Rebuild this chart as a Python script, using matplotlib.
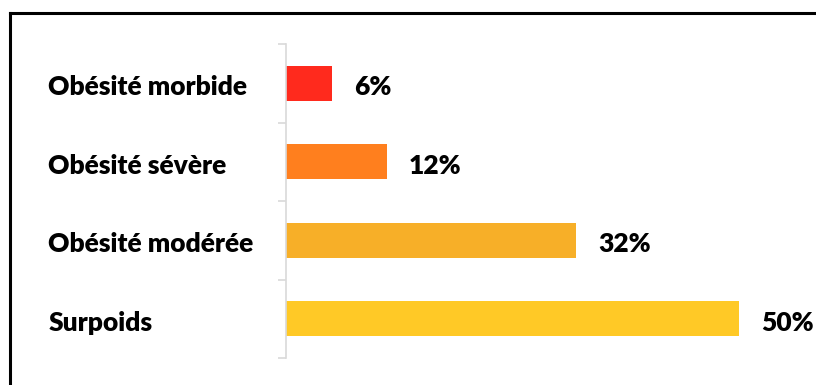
import matplotlib.pyplot as plt
from matplotlib.lines import Line2D

categories = ['Obésité morbide', 'Obésité sévère', 'Obésité modérée', 'Surpoids']
values = [5.1, 11.1, 32.0, 50.0]
value_labels = ['6%', '12%', '32%', '50%']
colors = ['#FF2A1D', '#FF7F1E', '#F7AF28', '#FFC926']

W, H = 816, 385
fig = plt.figure(figsize=(W / 100, H / 100), dpi=100)
fig.patch.set_facecolor('white')

# axes: left edge at px 286, top 44, bottom 358
ax = fig.add_axes([286 / W, 1 - 358 / H, (800 - 286) / W, (358 - 44) / H])
ypos = list(range(len(categories)))
ax.barh(ypos, values, height=0.445, color=colors)
ax.set_xlim(0, (800 - 286) / 9.06)
ax.set_ylim(len(categories) - 0.5, -0.5)

for sp in ['top', 'right', 'bottom']:
    ax.spines[sp].set_visible(False)
ax.spines['left'].set_color('#D9D9D9')
ax.spines['left'].set_linewidth(1.2)
ax.set_xticks([])
ax.set_yticks(ypos)
ax.set_yticklabels([])
ax.tick_params(axis='y', which='major', length=0)
ax.set_yticks([i - 0.5 for i in range(len(categories) + 1)], minor=True)
ax.tick_params(axis='y', which='minor', length=6, color='#D9D9D9', width=1.2)

font = ['Lato', 'DejaVu Sans']
for i, (cat, v, lab) in enumerate(zip(categories, values, value_labels)):
    ax.annotate(cat, (0, i), xytext=(-171, -3), textcoords='offset points',
                ha='left', va='center', fontsize=19, fontweight='heavy', family=font)
    ax.annotate(lab, (v, i), xytext=(16, -3), textcoords='offset points',
                ha='left', va='center', fontsize=19, fontweight='heavy', family=font)

# frame lines (top and left)
fig.add_artist(Line2D([10 / W, 10 / W], [0, 1 - 13 / H], color='black', lw=2.2,
                      transform=fig.transFigure))
fig.add_artist(Line2D([10 / W, 1], [1 - 13 / H, 1 - 13 / H], color='black', lw=2.2,
                      transform=fig.transFigure))

fig.savefig('out.png', dpi=100)
